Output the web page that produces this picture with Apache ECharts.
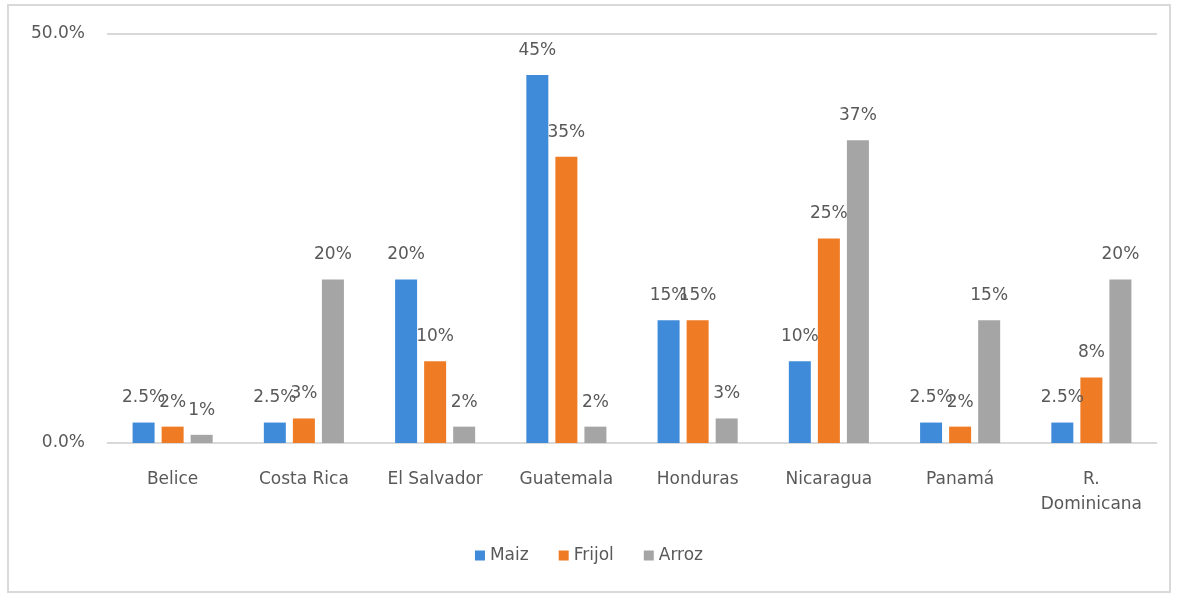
<!DOCTYPE html>
<html>
<head>
<meta charset="utf-8">
<script src="https://cdn.jsdelivr.net/npm/echarts@6/dist/echarts.min.js"></script>
<style>
html,body{margin:0;padding:0;background:#fff;}
#chart{width:1178px;height:594px;}
</style>
</head>
<body>
<div id="chart"></div>
<script>
const categories = ['Belice', 'Costa Rica', 'El Salvador', 'Guatemala', 'Honduras', 'Nicaragua', 'Panamá', 'R.\nDominicana'];
const maiz = [2.5, 2.5, 20, 45, 15, 10, 2.5, 2.5];
const frijol = [2, 3, 10, 35, 15, 25, 2, 8];
const arroz = [1, 20, 2, 2, 3, 37, 15, 20];
const seriesNames = ['Maiz', 'Frijol', 'Arroz'];
const yTicks = [0, 50];

const FONT = '"DejaVu Sans", "Open Sans", sans-serif';
const TXT = '#595959';

const chart = echarts.init(document.getElementById('chart'), null, {renderer: 'canvas'});
const lbl = {
  show: true, position: 'top', distance: 16,
  color: TXT, fontFamily: FONT, fontSize: 17,
  formatter: p => p.value + '%'
};
function mk(name, data, color) {
  return {
    name, type: 'bar', data,
    barWidth: 22, barGap: '32%',
    itemStyle: {color},
    label: lbl
  };
}
chart.setOption({
  animation: false,
  backgroundColor: '#ffffff',
  textStyle: {fontFamily: FONT},
  graphic: [{
    type: 'rect', shape: {x: 8, y: 5, width: 1162, height: 587},
    style: {fill: 'none', stroke: '#d9d9d9', lineWidth: 2}, silent: true, z: -1
  }],
  grid: {left: 107, right: 21, top: 34, bottom: 151, containLabel: false},
  legend: {
    data: seriesNames, bottom: 25, left: 'center',
    itemWidth: 10, itemHeight: 10, itemGap: 30, icon: 'rect',
    textStyle: {color: TXT, fontFamily: FONT, fontSize: 17}
  },
  xAxis: {
    type: 'category', data: categories,
    axisLine: {lineStyle: {color: '#d9d9d9', width: 1}},
    axisTick: {show: false},
    axisLabel: {color: TXT, fontFamily: FONT, fontSize: 17, margin: 24, lineHeight: 25, interval: 0}
  },
  yAxis: {
    type: 'value', min: yTicks[0], max: yTicks[1], interval: 50,
    axisLine: {show: false}, axisTick: {show: false},
    splitLine: {lineStyle: {color: '#d9d9d9', width: 2}},
    axisLabel: {color: TXT, fontFamily: FONT, fontSize: 17, margin: 22, padding: [4, 0, 0, 0], formatter: v => v.toFixed(1) + '%'}
  },
  series: [
    mk(seriesNames[0], maiz, '#3f8bd9'),
    mk(seriesNames[1], frijol, '#ef7b24'),
    mk(seriesNames[2], arroz, '#a5a5a5')
  ]
});
</script>
</body>
</html>
